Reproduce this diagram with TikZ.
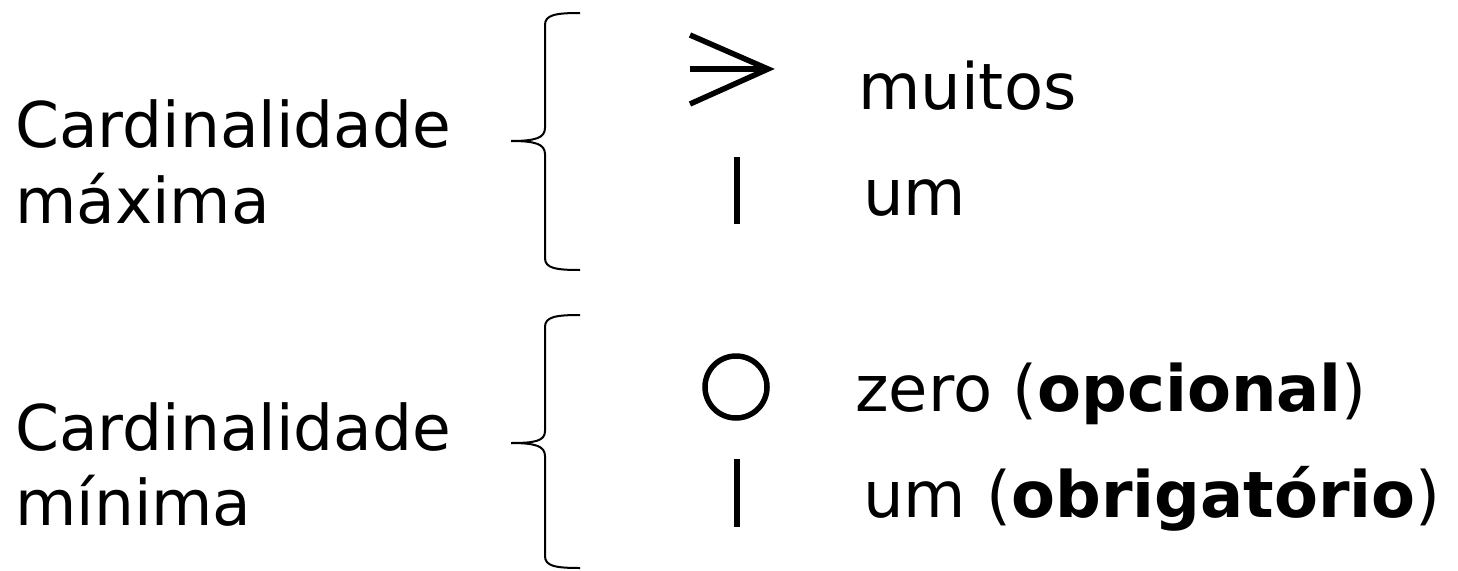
\documentclass[tikz,border=0pt]{standalone}
\usepackage{fontspec}
\setmainfont{DejaVu Sans}
\begin{document}
\begin{tikzpicture}[x=1pt,y=-1pt,
  lbl/.style={anchor=base west,inner sep=0pt,font=\fontsize{63}{75}\selectfont},
  rlbl/.style={anchor=base west,inner sep=0pt,font=\fontsize{64}{76}\selectfont},
  brace/.style={line width=2pt},
  sym/.style={line width=5.5pt}]
\useasboundingbox (0,0) rectangle (1458,570);
% left labels
\node[lbl] (c1) at (15,147) {Cardinalidade};
\node[lbl] (m1) at (15,223) {máxima};
\node[lbl] (c2) at (15,450) {Cardinalidade};
\node[lbl] (m2) at (15,525) {mínima};
% braces
\draw[brace] (580,13) .. controls (555,13) and (545,15) .. (545,25) -- (545,128) .. controls (545,138) and (535,141) .. (511,141);
\draw[brace] (511,141) .. controls (535,141) and (545,144) .. (545,154) -- (545,258) .. controls (545,268) and (555,270) .. (580,270);
\draw[brace] (580,315) .. controls (555,315) and (545,317) .. (545,327) -- (545,431) .. controls (545,441) and (535,443) .. (511,443);
\draw[brace] (511,443) .. controls (535,443) and (545,446) .. (545,456) -- (545,556) .. controls (545,566) and (555,568) .. (580,568);
% symbols
\draw[sym,line join=miter] (690,35) -- (768,69) -- (690,104);
\draw[sym] (690,69) -- (768,69);
\draw[sym] (737,157) -- (737,224);
\draw[sym] (736,387) circle[radius=31];
\draw[sym] (737,459) -- (737,527);
% right labels
\node[rlbl] (t1) at (858,109) {muitos};
\node[rlbl] (t2) at (863,215) {um};
\node[rlbl] (t3) at (855,411) {zero (\textbf{opcional})};
\node[rlbl] (t4) at (863,517) {um (\textbf{obrigatório})};
\end{tikzpicture}
\end{document}
